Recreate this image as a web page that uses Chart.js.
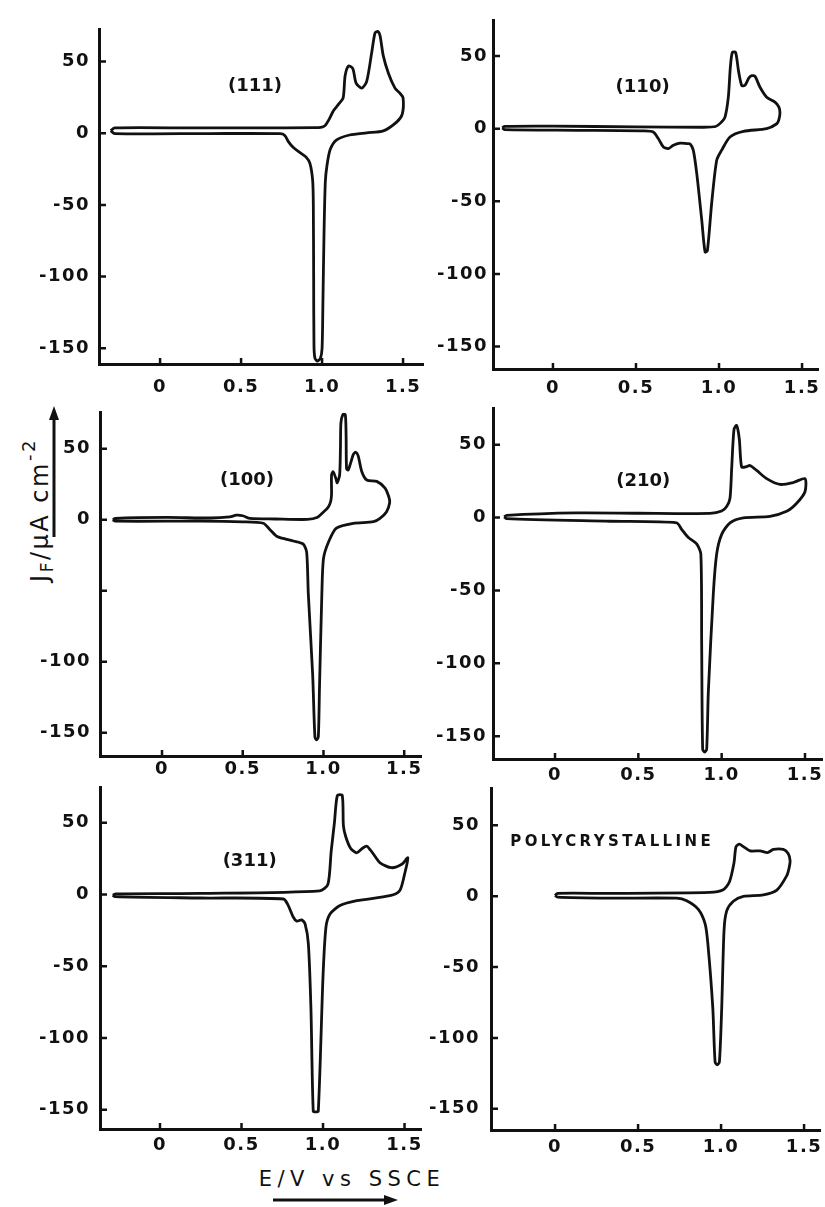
<!DOCTYPE html>
<html>
<head>
<meta charset="utf-8">
<script src="https://cdn.jsdelivr.net/npm/chart.js@4.4.1/dist/chart.umd.min.js"></script>
<style>
  html, body { margin: 0; padding: 0; background: #fff; }
  #page { position: relative; width: 825px; height: 1207px; overflow: hidden; background: #fff; }
  canvas { position: absolute; }
  .ytitle {
    position: absolute; left: 37px; top: 510px; white-space: nowrap;
    font: 24px "DejaVu Sans", sans-serif; letter-spacing: 2.5px; color: #111;
    transform: translate(-50%, -50%) rotate(-90deg);
  }
  .ytitle sub { font-size: 17px; vertical-align: -5px; }
  .ytitle sup { font-size: 18px; vertical-align: 13px; }
  .xtitle {
    position: absolute; left: 352px; top: 1179px; white-space: nowrap;
    font: 21px "DejaVu Sans", sans-serif; letter-spacing: 5.5px; color: #111;
    transform: translate(-50%, -50%);
  }
  svg { position: absolute; left: 0; top: 0; }
</style>
</head>
<body>
<div id="page">
  <div class="ytitle">J<sub>F</sub>/μA cm<sup>-2</sup></div>
  <div class="xtitle">E/V vs SSCE</div>
  <svg width="825" height="1207">
    <line x1="54" y1="537" x2="54" y2="418" stroke="#111" stroke-width="3"/>
    <polygon points="54,406 49,420 59,420" fill="#111"/>
    <line x1="273" y1="1200" x2="386" y2="1200" stroke="#111" stroke-width="3"/>
    <polygon points="398,1200 384,1195 384,1205" fill="#111"/>
  </svg>
</div>
<script>
// tick values
const xTicks = [0, 0.5, 1.0, 1.5];
const yTicks = [50, 0, -50, -100, -150];

// (111)
const e111 = [-0.305, -0.28, 0.2, 0.6, 0.95, 1.0, 1.02, 1.045, 1.07, 1.10, 1.13, 1.142, 1.163, 1.19, 1.21, 1.245, 1.275, 1.306, 1.327, 1.345, 1.358, 1.378, 1.41, 1.45, 1.48, 1.50, 1.495, 1.46, 1.378, 1.275, 1.17, 1.09, 1.05, 1.03, 1.02, 1.012, 1.005, 1.0, 0.99, 0.972, 0.956, 0.95, 0.948, 0.946, 0.942, 0.925, 0.9, 0.864, 0.823, 0.792, 0.77, 0.74, 0.3, -0.28, -0.305];
const j111 = [1.8, 3.7, 3.7, 3.8, 3.9, 4.3, 5.5, 10, 15.7, 20, 24.7, 40, 47, 45, 35, 31.5, 36, 56, 70, 71, 68, 54, 41.7, 31.5, 28, 24.7, 13.4, 7.8, 1.7, 0.3, -1.2, -4.6, -11.4, -22.7, -34, -70, -120, -150, -157, -159, -157, -148, -100, -50, -33, -21, -16.5, -13.5, -10, -5.8, -1.5, -0.3, -0.2, -0.2, 1.8];

// (110)
const e110 = [-0.305, -0.29, 0.0, 0.5, 0.9, 0.98, 1.01, 1.036, 1.056, 1.068, 1.08, 1.10, 1.117, 1.137, 1.157, 1.18, 1.197, 1.217, 1.247, 1.287, 1.337, 1.36, 1.367, 1.36, 1.348, 1.287, 1.147, 1.066, 1.016, 0.986, 0.956, 0.93, 0.916, 0.896, 0.866, 0.845, 0.826, 0.806, 0.765, 0.725, 0.695, 0.665, 0.634, 0.604, 0.55, 0.143, -0.29, -0.305];
const j110 = [0.5, 1.6, 1.8, 1.2, 1.0, 1.5, 4, 8, 21.7, 42, 52.5, 52.5, 40, 29.7, 30, 35, 36.5, 36, 28.5, 21.7, 18.3, 15, 11, 6, 3.4, 0, -1.8, -5.7, -14.8, -21.7, -51, -84, -85, -63, -31, -14.8, -10.5, -10.3, -10, -11.4, -13.7, -12.6, -6.8, -2.3, -1.5, -1.1, -0.7, 0.5];

// (100)
const e100 = [-0.305, -0.29, 0.03, 0.3, 0.42, 0.46, 0.50, 0.545, 0.7, 0.9, 0.96, 1.0, 1.03, 1.045, 1.05, 1.05, 1.06, 1.077, 1.085, 1.1, 1.105, 1.108, 1.12, 1.135, 1.14, 1.143, 1.153, 1.17, 1.185, 1.2, 1.215, 1.237, 1.268, 1.33, 1.38, 1.405, 1.41, 1.39, 1.35, 1.31, 1.185, 1.08, 1.03, 1.0, 0.99, 0.975, 0.968, 0.957, 0.947, 0.933, 0.906, 0.896, 0.875, 0.813, 0.772, 0.71, 0.669, 0.627, 0.5, 0.235, -0.29, -0.305];
const j100 = [0, 0.9, 1.6, 1.2, 2, 3.2, 2.8, 0.9, 0.5, 0.2, 1.5, 5.4, 9, 13, 18, 31.5, 33.8, 29, 26, 31.5, 50, 68, 74, 74, 60, 36, 35, 40.6, 46, 47.5, 45, 34, 28, 27, 22.4, 16, 12, 5.4, 1, -1.4, -2.5, -5.9, -16, -27.4, -52, -120, -153, -155, -153, -109, -52, -23, -17.2, -15, -13.8, -11.6, -7, -2.5, -1.5, -1, -1, 0];

// (210)
const e210 = [-0.305, -0.29, 0.13, 0.5, 0.93, 1.0, 1.03, 1.05, 1.06, 1.074, 1.09, 1.106, 1.12, 1.15, 1.17, 1.21, 1.27, 1.35, 1.43, 1.50, 1.50, 1.45, 1.39, 1.29, 1.13, 1.05, 1.0, 0.97, 0.95, 0.92, 0.91, 0.898, 0.886, 0.88, 0.875, 0.85, 0.80, 0.76, 0.73, 0.33, -0.29, -0.305];
const j210 = [0.5, 1.6, 3.2, 3, 2.9, 4.5, 7.6, 13.3, 33.6, 60.6, 63.3, 53.8, 34.7, 35, 35.8, 32.4, 26.8, 22.8, 24.1, 26.8, 17.8, 9.9, 4.3, 0.9, -0.2, -3.6, -11.5, -25, -52, -119.6, -159, -161, -159, -86, -25, -18, -13.7, -8.1, -3.6, -2.5, -0.7, 0.5];

// (311)
const e311 = [-0.29, -0.27, 0.245, 0.98, 1.03, 1.05, 1.07, 1.088, 1.118, 1.125, 1.14, 1.17, 1.207, 1.24, 1.268, 1.29, 1.31, 1.35, 1.42, 1.483, 1.52, 1.50, 1.47, 1.41, 1.207, 1.104, 1.043, 1.018, 1.0, 0.971, 0.955, 0.94, 0.926, 0.91, 0.89, 0.869, 0.839, 0.818, 0.787, 0.757, 0.245, -0.276, -0.29];
const j311 = [-0.5, 0.4, 0.7, 2.5, 7, 30, 50, 69, 69, 48, 40, 32, 29, 32, 33.6, 31, 28, 22, 18.6, 21, 25.5, 14, 2.5, -0.9, -4.4, -7.8, -13.6, -22.8, -57, -151, -151.5, -151, -80, -34.3, -20.5, -17.7, -18.6, -15.9, -7.8, -3.2, -2.5, -1.6, -0.5];

// polycrystalline
const ePoly = [0.0, 0.015, 0.33, 0.93, 1.01, 1.05, 1.078, 1.09, 1.11, 1.134, 1.175, 1.235, 1.28, 1.315, 1.375, 1.405, 1.416, 1.41, 1.396, 1.336, 1.255, 1.134, 1.074, 1.034, 1.018, 1.004, 0.99, 0.977, 0.964, 0.95, 0.92, 0.904, 0.863, 0.793, 0.733, 0.33, 0.015, 0.0];
const jPoly = [0.5, 2, 2, 2.7, 4.3, 10, 23.6, 35, 36.7, 35, 32, 32, 30.8, 33, 33, 30, 25, 20, 14.5, 4.3, 0.9, -0.2, -3.6, -10.4, -24, -78.5, -117, -119, -117, -78.5, -33, -19.5, -9.3, -3.2, -1.4, -1.4, -0.7, 0.5];

// layout of each panel: plot box in page pixels and axis ranges
const panels = [
  { E: e111, J: j111, tag: '(111)', tagAt: [0.586, 32.5], box: [99, 20, 423, 364], xr: [-0.377, 1.623], yr: [-161, 72.2], padX: 13, padY: 9 },
  { E: e110, J: j110, tag: '(110)', tagAt: [0.54, 28.5], box: [493, 15, 818, 369], xr: [-0.361, 1.596], yr: [-165.5, 74.3], padX: 9, padY: 5 },
  { E: e100, J: j100, tag: '(100)', tagAt: [0.526, 27.5], box: [100, 403, 421, 756], xr: [-0.384, 1.604], yr: [-166.4, 75.3], padX: 3, padY: 9, hide: [-50] },
  { E: e210, J: j210, tag: '(210)', tagAt: [0.53, 25], box: [493, 402, 822, 759], xr: [-0.372, 1.602], yr: [-165.7, 74.7], padX: 6, padY: 6 },
  { E: e311, J: j311, tag: '(311)', tagAt: [0.55, 23], box: [100, 777, 421, 1129], xr: [-0.368, 1.601], yr: [-163.5, 74.3], padX: 6, padY: 10 },
  { E: ePoly, J: jPoly, tag: 'POLYCRYSTALLINE', tagAt: [-0.27, 38], tagLeft: true, box: [491, 777, 820, 1130], xr: [-0.386, 1.596], yr: [-165, 75.8], padX: 7, padY: 11 }
];

const AXW = 70, AXH = 45, PT = 10, PR = 10;

// inward tick marks and the panel tag
const deco = {
  id: 'deco',
  beforeDraw(chart) {
    chart.ctx.letterSpacing = '1.5px';
  },
  afterDraw(chart, args, opts) {
    const ctx = chart.ctx, xs = chart.scales.x, ys = chart.scales.y;
    const a = chart.chartArea;
    ctx.save();
    ctx.strokeStyle = '#111';
    ctx.lineWidth = 2.5;
    ctx.beginPath();
    yTicks.forEach(v => {
      const py = ys.getPixelForValue(v);
      ctx.moveTo(a.left, py); ctx.lineTo(a.left + 7, py);
    });
    xTicks.forEach(v => {
      const px = xs.getPixelForValue(v);
      ctx.moveTo(px, a.bottom); ctx.lineTo(px, a.bottom - 6);
    });
    ctx.stroke();

    ctx.fillStyle = '#111';
    ctx.textBaseline = 'middle';
    const tx = xs.getPixelForValue(opts.at[0]), ty = ys.getPixelForValue(opts.at[1]);
    if (opts.left) {
      ctx.font = 'bold 15px "DejaVu Sans"';
      ctx.letterSpacing = '3.4px';
      ctx.textAlign = 'left';
    } else {
      ctx.font = 'bold 18px "DejaVu Sans"';
      ctx.letterSpacing = '0px';
      ctx.textAlign = 'center';
    }
    ctx.fillText(opts.text, tx, ty);
    ctx.restore();
  }
};

const page = document.getElementById('page');

panels.forEach(p => {
  const [l, t, r, b] = p.box;
  const cv = document.createElement('canvas');
  cv.width = (r - l) + AXW + PR;
  cv.height = (b - t) + PT + AXH;
  cv.style.left = (l - AXW) + 'px';
  cv.style.top = (t - PT) + 'px';
  page.appendChild(cv);

  const tickFont = { family: '"DejaVu Sans"', size: 18, weight: 'bold' };

  new Chart(cv.getContext('2d'), {
    type: 'scatter',
    data: {
      datasets: [{
        data: p.E.map((e, i) => ({ x: e, y: p.J[i] })),
        showLine: true,
        borderColor: '#111',
        borderWidth: 2.8,
        pointRadius: 0,
        tension: 0.25,
        fill: false
      }]
    },
    options: {
      responsive: false,
      animation: false,
      devicePixelRatio: 1,
      layout: { padding: { top: PT, right: PR, left: 0, bottom: 0 } },
      plugins: {
        legend: { display: false },
        tooltip: { enabled: false },
        deco: { text: p.tag, at: p.tagAt, left: !!p.tagLeft }
      },
      scales: {
        x: {
          type: 'linear',
          min: p.xr[0], max: p.xr[1],
          grid: { display: false, drawTicks: false },
          border: { display: true, width: 3, color: '#111' },
          afterBuildTicks: s => { s.ticks = xTicks.map(v => ({ value: v })); },
          afterFit: s => { s.height = AXH; },
          ticks: {
            color: '#111', font: tickFont, padding: p.padX, maxRotation: 0,
            callback: v => (v === 0 ? '0' : v.toFixed(1))
          }
        },
        y: {
          type: 'linear',
          min: p.yr[0], max: p.yr[1],
          grid: { display: false, drawTicks: false },
          border: { display: true, width: 3, color: '#111' },
          afterBuildTicks: s => { s.ticks = yTicks.map(v => ({ value: v })); },
          afterFit: s => { s.width = AXW; },
          ticks: {
            color: '#111', font: tickFont, padding: p.padY,
            callback: v => ((p.hide || []).includes(v) ? '' : String(v))
          }
        }
      }
    },
    plugins: [deco]
  });
});
</script>
</body>
</html>
